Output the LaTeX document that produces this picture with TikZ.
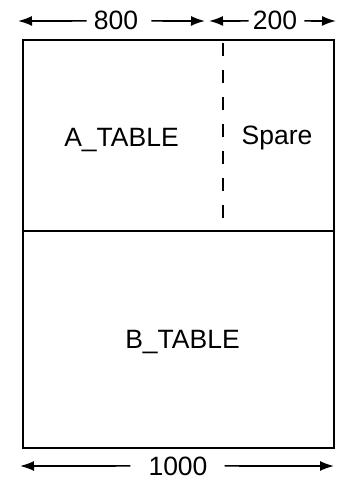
\documentclass[tikz,border=0pt]{standalone}
\usepackage{fontspec}
\setmainfont{Liberation Sans}
\usetikzlibrary{arrows.meta}
\begin{document}
\begin{tikzpicture}[x=1pt,y=-1pt,
  lbl/.style={font=\fontsize{26.5}{28}\selectfont, inner sep=0pt, anchor=base},
  arr/.style={-{Latex[length=14pt,width=10pt]}, line width=1.7pt},
  box/.style={line width=2pt},
  dimtxt/.style={font=\fontsize{26.5}{28}\selectfont, inner sep=0pt, anchor=base}]
\useasboundingbox (0,0) rectangle (342,478);
% outer frame
\coordinate (tl) at (23,40);
\coordinate (br) at (334,448);
\draw[box] (tl) rectangle (br);
\coordinate (ml) at (23,231);
\coordinate (mr) at (334,231);
\draw[box] (ml) -- (mr);
\coordinate (dt) at (223,43);
\coordinate (db) at (223,222);
\draw[line width=2pt, dash pattern=on 13pt off 14pt] (dt) -- (db);
% labels
\node[lbl] (a) at (121.5,147) {A\_TABLE};
\node[lbl] (s) at (277,145) {Spare};
\node[lbl] (b) at (182.5,348) {B\_TABLE};
% top dimensions
\node[dimtxt] (n800) at (116,30) {800};
\coordinate (l800) at (18,21);
\coordinate (r800) at (205,21);
\draw[arr] ([xshift=-7]n800.west) -- (l800);
\draw[arr] ([xshift=13]n800.east) -- (r800);
\node[dimtxt] (n200) at (275,30) {200};
\coordinate (l200) at (209,21);
\coordinate (r200) at (336,21);
\draw[arr] ([xshift=-4]n200.west) -- (l200);
\draw[arr] ([xshift=7]n200.east) -- (r200);
% bottom dimension
\node[dimtxt] (n1000) at (178,475) {1000};
\coordinate (l1000) at (20,466);
\coordinate (r1000) at (334,466);
\draw[arr] ([xshift=-18]n1000.west) -- (l1000);
\draw[arr] ([xshift=17]n1000.east) -- (r1000);
\end{tikzpicture}
\end{document}
